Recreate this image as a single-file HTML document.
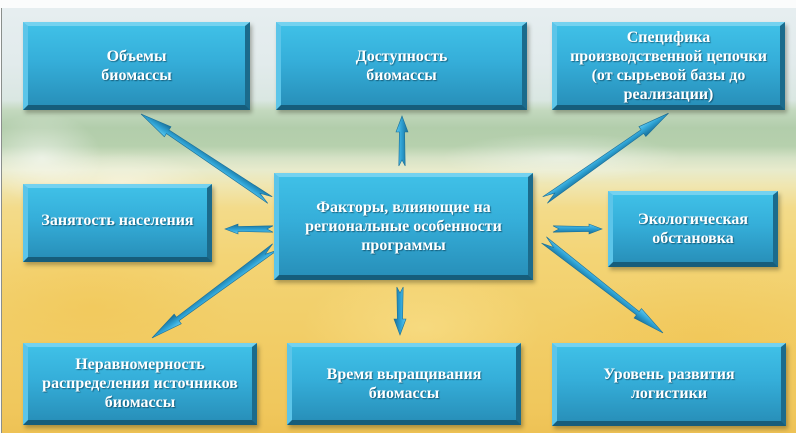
<!DOCTYPE html>
<html><head><meta charset="utf-8">
<style>
html,body{margin:0;padding:0;}
body{width:796px;height:433px;overflow:hidden;position:relative;background:#fbfcfc;font-family:"Liberation Serif","Times New Roman","DejaVu Serif",serif;}
#bg{position:absolute;left:2px;top:8px;width:794px;height:425px;
background:
radial-gradient(ellipse 60px 45px at 40px 150px,rgba(255,255,255,0.55),rgba(255,255,255,0) 100%),
radial-gradient(ellipse 90px 30px at 120px 175px,rgba(255,255,255,0.45),rgba(255,255,255,0) 100%),
radial-gradient(ellipse 120px 25px at 560px 150px,rgba(255,255,255,0.45),rgba(255,255,255,0) 100%),
radial-gradient(ellipse 140px 70px at 90px 300px,rgba(242,196,80,0.5),rgba(242,196,80,0) 100%),
radial-gradient(ellipse 160px 70px at 700px 330px,rgba(240,192,72,0.4),rgba(240,192,72,0) 100%),
radial-gradient(ellipse 120px 60px at 420px 320px,rgba(255,240,170,0.35),rgba(255,240,170,0) 100%),
linear-gradient(to bottom,#e6eef0 0px,#e2ebec 55px,#dae7e2 92px,#c4d9bf 102px,#b2cdab 120px,#b6d0ad 138px,#d6e2c6 150px,#e8ebcc 162px,#f0e6b0 178px,#f3db8a 200px,#f3d475 250px,#f2ce68 320px,#f0c75c 400px,#eec255 425px);}
#lline{position:absolute;left:1px;top:8px;width:1px;height:425px;background:#8a8f8c;}
.box{position:absolute;box-sizing:border-box;
background:linear-gradient(to bottom,#3fc0e7 0%,#35aed9 45%,#2890ba 100%);
border-style:solid;border-width:4px 5px 5px 5px;
border-color:#74d2f0 #1b6b8c #165d7b #5cc5e9;
box-shadow:2px 3px 4px rgba(40,40,20,0.35);
display:flex;align-items:center;justify-content:center;text-align:center;
color:#fff;font-weight:bold;font-size:16px;line-height:19px;
font-family:"Liberation Serif","Times New Roman","DejaVu Serif",serif;
text-shadow:1px 1px 1px rgba(0,40,60,0.55);}
svg{position:absolute;left:0;top:0;}
</style></head><body>
<div id="bg"></div>
<div id="lline"></div>

<svg width="796" height="433" viewBox="0 0 796 433">
<defs>
<linearGradient id="ag" x1="0" y1="0" x2="0" y2="1">
<stop offset="0" stop-color="#5ec9ef"/>
<stop offset="0.45" stop-color="#2ea2d4"/>
<stop offset="1" stop-color="#186d96"/>
</linearGradient>
</defs>
<g fill="url(#ag)" stroke="#1a6f98" stroke-width="0.6" stroke-linejoin="miter">
<polygon transform="translate(270,200) rotate(-146.3)" points="0,-4 123,-2.2 123,-6 155,0 123,6 123,2.2 0,4 12,0"/>
<polygon transform="translate(545,200) rotate(-35.1)" points="0,-4 119,-2.2 119,-6 151,0 119,6 119,2.2 0,4 12,0"/>
<polygon transform="translate(275,247) rotate(143.5)" points="0,-4 121,-2.2 121,-6 153,0 121,6 121,2.2 0,4 12,0"/>
<polygon transform="translate(544,240) rotate(38)" points="0,-4 119,-2.2 119,-6 151,0 119,6 119,2.2 0,4 12,0"/>
<polygon transform="translate(402,166) rotate(-90)" points="0,-3.2 34,-2.6 34,-6 50,0 34,6 34,2.6 0,3.2 6,0"/>
<polygon transform="translate(400,287) rotate(90)" points="0,-3.2 32,-2.6 32,-6 48,0 32,6 32,2.6 0,3.2 6,0"/>
<polygon transform="translate(273,229) rotate(180)" points="0,-3.2 35,-2.5 35,-5 48,0 35,5 35,2.5 0,3.2 6,0"/>
<polygon transform="translate(553,229)" points="0,-3.2 36,-2.5 36,-5 49,0 36,5 36,2.5 0,3.2 6,0"/>
</g>
</svg>

<div class="box" style="left:23px;top:22px;width:227px;height:88px;">Объемы<br>биомассы</div>
<div class="box" style="left:276px;top:22px;width:251px;height:88px;">Доступность<br>биомассы</div>
<div class="box" style="left:552px;top:22px;width:233px;height:88px;">Специфика<br>производственной цепочки<br>(от сырьевой базы до<br>реализации)</div>

<div class="box" style="left:23px;top:184px;width:189px;height:78px;padding-bottom:4px;">Занятость населения</div>
<div class="box" style="left:274px;top:173px;width:259px;height:107px;">Факторы, влияющие на<br>региональные особенности<br>программы</div>
<div class="box" style="left:608px;top:191px;width:170px;height:76px;">Экологическая<br>обстановка</div>

<div class="box" style="left:23px;top:343px;width:234px;height:82px;">Неравномерность<br>распределения источников<br>биомассы</div>
<div class="box" style="left:287px;top:343px;width:234px;height:82px;">Время выращивания<br>биомассы</div>
<div class="box" style="left:552px;top:343px;width:234px;height:83px;">Уровень развития<br>логистики</div>
</body></html>
